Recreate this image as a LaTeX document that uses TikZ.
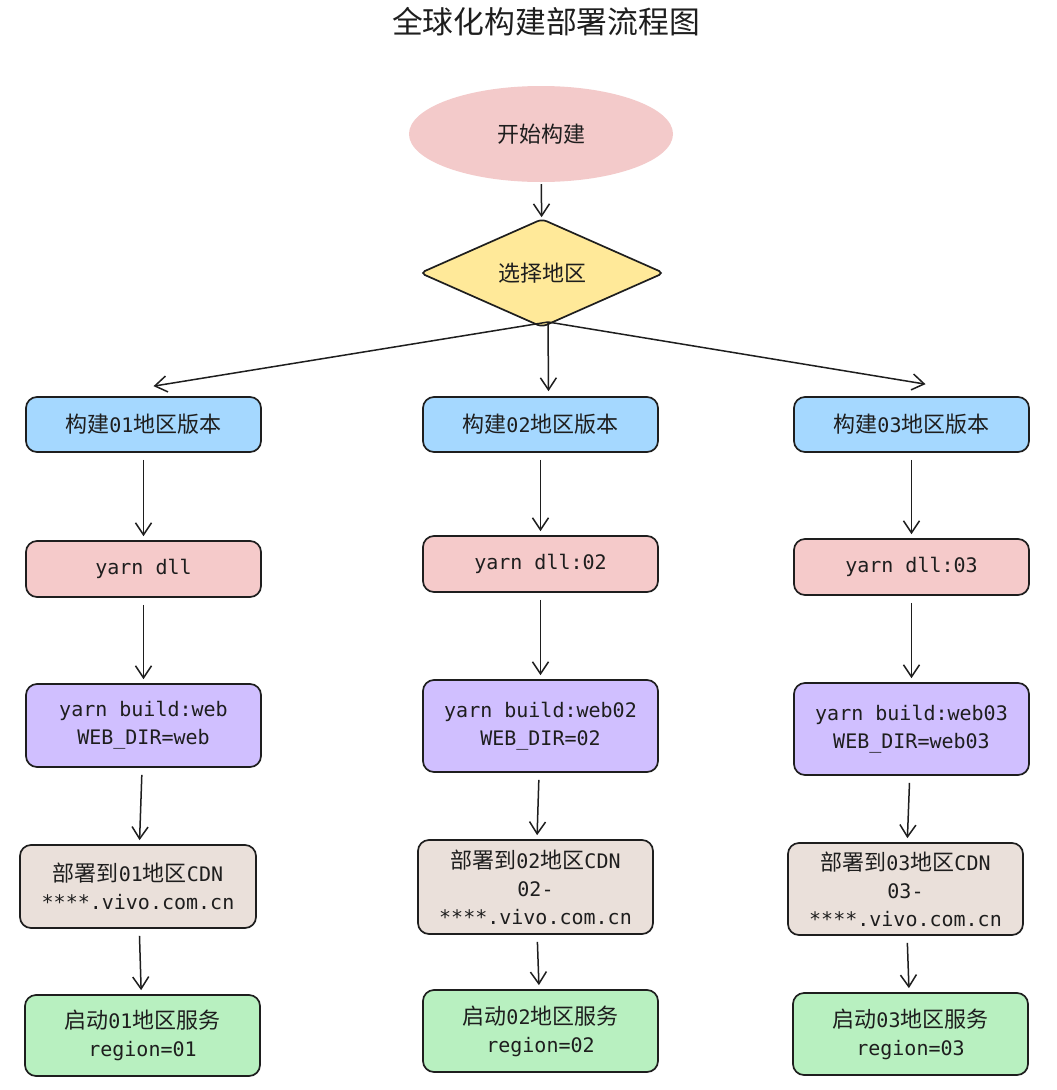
\documentclass[tikz,border=0pt]{standalone}
\usepackage{fontspec}
\setmainfont{DejaVu Sans Mono}
\newfontfamily\cjk[Scale=1.1]{Noto Sans CJK SC}
\usetikzlibrary{shapes.geometric,arrows.meta}
\newcommand\zhtxt[1]{{\cjk #1}}
\definecolor{ink}{HTML}{1E1E1E}
\definecolor{cblue}{HTML}{A5D8FF}
\definecolor{cpink}{HTML}{F5CACA}
\definecolor{clav}{HTML}{D0BFFF}
\definecolor{cbeige}{HTML}{EAE0DA}
\definecolor{cgreen}{HTML}{B8F0C0}
\definecolor{cyellow}{HTML}{FFE999}
\definecolor{cstart}{HTML}{F3CACA}
\begin{document}
\begin{tikzpicture}[x=1pt,y=-1pt,
  box/.style={draw=ink, line width=1.7pt, rounded corners=11pt, minimum width=235pt,
    align=center, font=\fontsize{20}{28}\selectfont, text=ink, inner sep=0pt},
  hdr/.style={box, fill=cblue, minimum height=55pt},
  dll/.style={box, fill=cpink, minimum height=56pt},
  bld/.style={box, fill=clav},
  cdn/.style={box, fill=cbeige},
  run/.style={box, fill=cgreen, minimum height=82pt},
  arr/.style={draw=ink, line width=1.5pt, -{Straight Barb[length=12pt,width=16pt]}},
  varr/.style={arr, shorten <=7pt, shorten >=4pt}
]
\useasboundingbox (0,0) rectangle (1057,1090);
\fill[white] (0,0) rectangle (1057,1090);

\node[font=\fontsize{28}{34}\selectfont\cjk, text=ink] (title) at (546,22) {全球化构建部署流程图};

\node[ellipse, fill=cstart, minimum width=264pt, minimum height=96pt, inner sep=0pt,
  font=\fontsize{20}{28}\selectfont\cjk, text=ink] (start) at (541,134) {开始构建};
\node[diamond, draw=ink, line width=1.7pt, fill=cyellow, rounded corners=5pt,
  minimum width=244pt, minimum height=90pt, inner sep=0pt,
  font=\fontsize{20}{28}\selectfont\cjk, text=ink] (sel) at (542,273) {选择地区};

% column 1
\node[hdr] (b11) at (143.5,424.5) {\zhtxt{构建}01\zhtxt{地区版本}};
\node[dll] (b12) at (143.5,569) {yarn dll};
\node[bld, minimum height=83pt] (b13) at (143.5,725.5) {yarn build:web\\WEB\_DIR=web};
\node[cdn, minimum height=83pt, minimum width=236pt] (b14) at (138,886.5) {\zhtxt{部署到}01\zhtxt{地区}CDN\\****.vivo.com.cn};
\node[run, minimum height=81pt] (b15) at (142.5,1035.5) {\zhtxt{启动}01\zhtxt{地区服务}\\region=01};

% column 2
\node[hdr] (b21) at (540.5,424.5) {\zhtxt{构建}02\zhtxt{地区版本}};
\node[dll] (b22) at (540.5,564) {yarn dll:02};
\node[bld, minimum height=92pt] (b23) at (540.5,726) {yarn build:web02\\WEB\_DIR=02};
\node[cdn, minimum height=94pt] (b24) at (535.5,887) {\zhtxt{部署到}02\zhtxt{地区}CDN\\02-\\****.vivo.com.cn};
\node[run] (b25) at (540.5,1031) {\zhtxt{启动}02\zhtxt{地区服务}\\region=02};

% column 3
\node[hdr] (b31) at (911.5,424.5) {\zhtxt{构建}03\zhtxt{地区版本}};
\node[dll] (b32) at (911.5,567) {yarn dll:03};
\node[bld, minimum height=92pt] (b33) at (911.5,729) {yarn build:web03\\WEB\_DIR=web03};
\node[cdn, minimum height=92pt] (b34) at (905.5,889) {\zhtxt{部署到}03\zhtxt{地区}CDN\\03-\\****.vivo.com.cn};
\node[run] (b35) at (910.5,1034) {\zhtxt{启动}03\zhtxt{地区服务}\\region=03};

% arrows
\draw[arr, shorten <=2pt, shorten >=1pt] (start) -- (sel);
\coordinate (split) at (548,322);
\draw[arr] (split) -- ([xshift=10pt,yshift=10pt]b11.north);
\draw[arr] (split) -- ([xshift=8pt,yshift=5pt]b21.north);
\draw[arr] (split) -- ([xshift=14pt,yshift=12pt]b31.north);

\foreach \c in {1,2,3}{
  \draw[varr] (b\c1) -- (b\c2);
  \draw[varr] (b\c2) -- (b\c3);
  \draw[varr] (b\c3) -- (b\c4);
  \draw[varr] (b\c4) -- (b\c5);
}
\end{tikzpicture}
\end{document}
